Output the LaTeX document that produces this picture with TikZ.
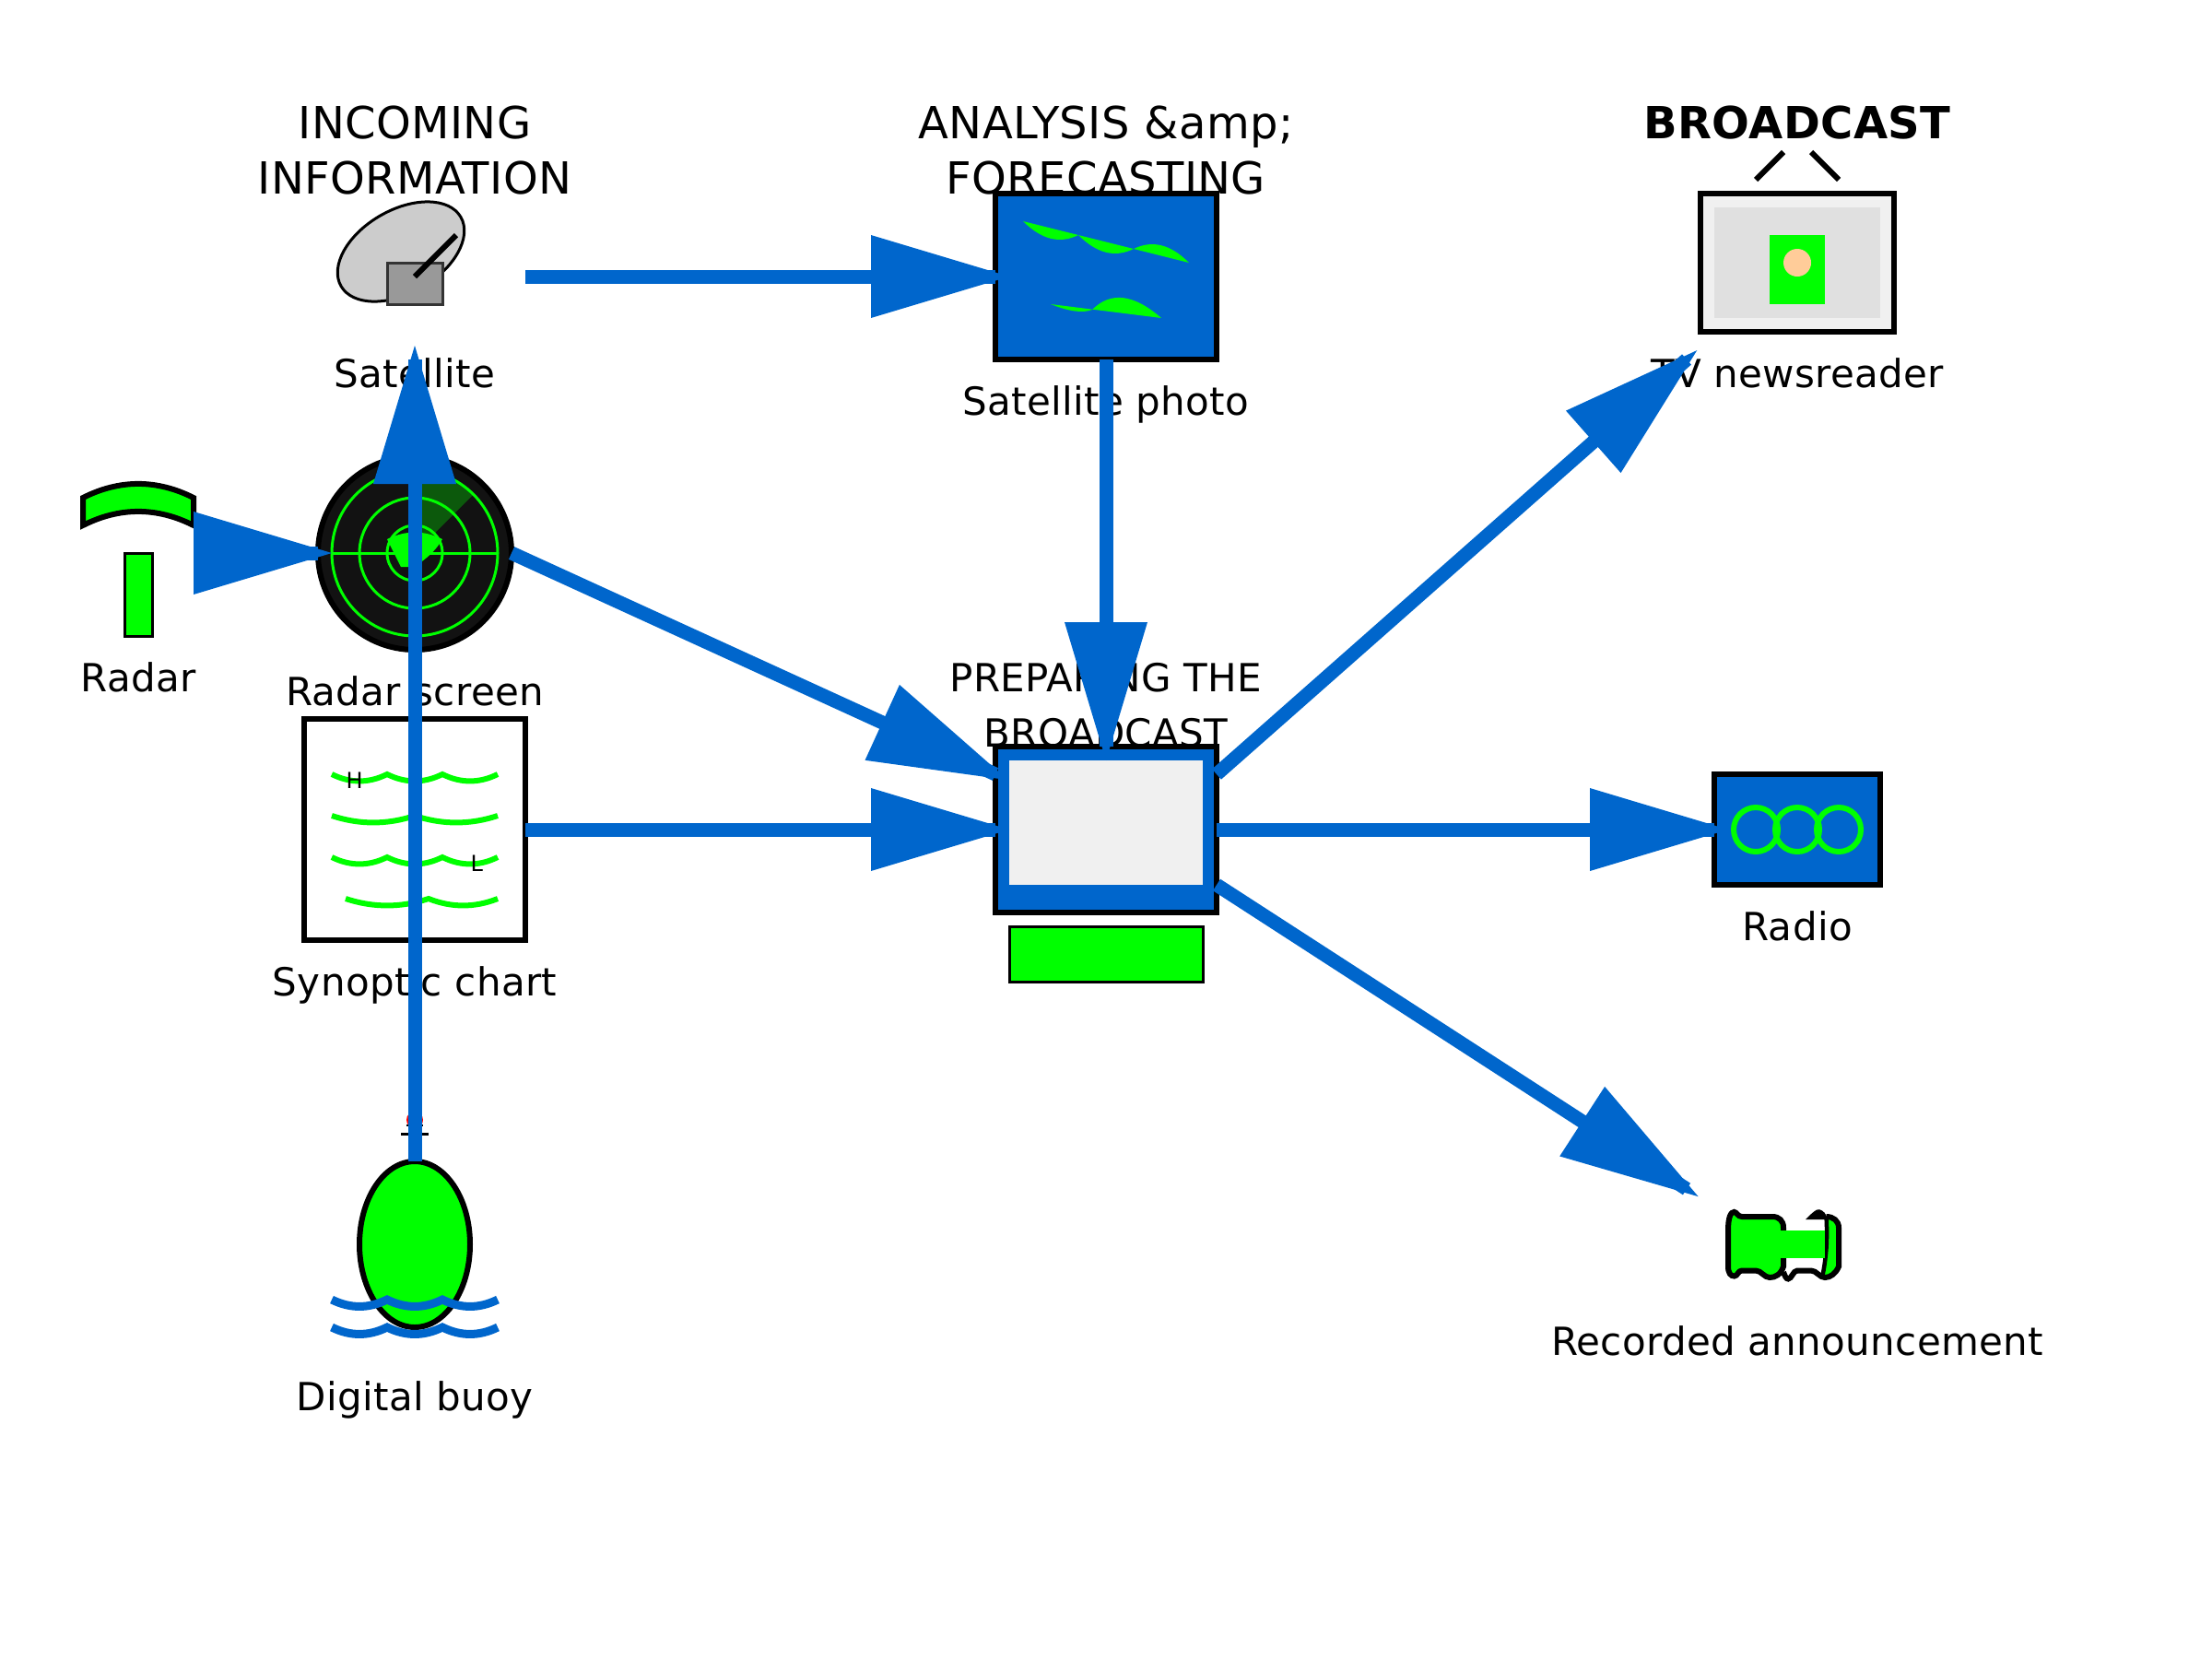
\documentclass[tikz,border=0pt]{standalone}
\usepackage{fontspec}
\setmainfont[LetterSpace=0.8]{DejaVu Sans}
\usetikzlibrary{arrows.meta, shapes.geometric}
\definecolor{flowblue}{HTML}{0066CC}
\definecolor{litegreen}{HTML}{00FF00}
\definecolor{facetone}{HTML}{FFCC99}
\pgfdeclarearrow{
  name = FlowHead,
  setup code = {
    \pgfarrowssettipend{5pt}
    \pgfarrowssetlineend{0pt}
    \pgfarrowssetbackend{-45pt}
    \pgfarrowssavethe\pgfarrowlength
  },
  drawing code = {
    \pgfpathmoveto{\pgfqpoint{5pt}{0pt}}
    \pgfpathlineto{\pgfqpoint{-45pt}{15pt}}
    \pgfpathlineto{\pgfqpoint{-45pt}{-15pt}}
    \pgfpathclose
    \pgfusepathqfill
  },
}
\tikzset{
  title/.style  = {font=\fontsize{16}{20}\selectfont, align=center, anchor=base, inner sep=0pt},
  lab/.style    = {font=\fontsize{14}{20}\selectfont, align=center, anchor=base, inner sep=0pt},
  panel/.style  = {draw=black, line width=2pt, outer sep=0pt, inner sep=0pt, rectangle},
  flow/.style   = {draw=flowblue, fill=none, line width=5pt, -{FlowHead[]}, shorten >=-5pt, color=flowblue},
  wave/.style   = {draw=litegreen, line width=2pt, fill=none},
  sea/.style    = {draw=flowblue, line width=3pt, fill=none},
  ring/.style   = {draw=litegreen, line width=1pt, fill=none},
  mini/.style   = {font=\fontsize{8}{8}\selectfont, anchor=base west, inner sep=0pt},
}
\begin{document}
\begin{tikzpicture}[x=1pt, y=-1pt]
  \useasboundingbox (0,0) rectangle (800,600);
  % headings
  \node[title] (titleIn) at (150,70) {INCOMING\\INFORMATION};
  \node[title] (titleAn) at (400,70) {ANALYSIS \&amp;\\FORECASTING};
  \node[title, font=\fontsize{16}{20}\selectfont\bfseries] (titleBr) at (650,50) {BROADCAST};
  \node[lab] (titlePr) at (400,270) {PREPARING THE\\BROADCAST};

  % satellite
  \draw[line width=1pt, fill=black!20, rotate around={30:(145,91)}] (145,91) ellipse [x radius=25, y radius=15];
  \draw[line width=1pt, draw=black!80, fill=black!40] (140,95) rectangle (160,110);
  \draw[line width=2pt] (150,100) -- (165,85);
  \node[lab] (labSat) at (150,140) {Satellite};

  % radar
  \draw[line width=2pt, fill=litegreen] (30,180) .. controls (43.3,173.3) and (56.7,173.3) .. (70,180)
        -- (70,190) .. controls (56.7,183.3) and (43.3,183.3) .. (30,190) -- cycle;
  \draw[line width=1pt, fill=litegreen] (45,200) rectangle (55,230);
  \node[lab] (labRadar) at (50,250) {Radar};

  % radar screen
  \node[panel, circle, fill=black!93, minimum size=70pt] (screen) at (150,200) {};
  \fill[litegreen, opacity=0.3] (150,200) -- (150,170) arc [start angle=-90, end angle=-45, radius=30] -- cycle;
  \foreach \r in {30,20,10}
    \draw[ring] (150,200) circle [radius=\r];
  \draw[ring] (120,200) -- (180,200);
  \fill[litegreen] (140,195) .. controls (146.7,191.7) and (153.3,191.7) .. (160,195)
        .. controls (157,200) and (154,202) .. (150,205) -- (145,205) -- cycle;
  \node[lab] (labScreen) at (150,255) {Radar screen};

  % synoptic chart
  \node[panel, fill=white, minimum size=80pt] (chart) at (150,300) {};
  \foreach \y in {280,310}
    \draw[wave] (120,\y) .. controls (126.7,\y+3.3) and (133.3,\y+3.3) .. (140,\y)
          .. controls (146.7,\y+3.3) and (153.3,\y+3.3) .. (160,\y)
          .. controls (166.7,\y+3.3) and (173.3,\y+3.3) .. (180,\y);
  \draw[wave] (120,295) .. controls (130,298.3) and (140,298.3) .. (150,295)
        .. controls (160,298.3) and (170,298.3) .. (180,295);
  \draw[wave] (125,325) .. controls (135,328.3) and (145,328.3) .. (155,325)
        .. controls (163.3,328.3) and (171.7,328.3) .. (180,325);
  \node[mini] (high) at (125,285) {H};
  \node[mini] (low) at (170,315) {L};
  \node[lab] (labChart) at (150,360) {Synoptic chart};

  % buoy
  \draw[line width=1pt] (145,410) -- (155,410);
  \fill[red] (150,405) circle [radius=3];
  \draw[line width=0.7pt] (147,407) -- (153,407);
  \node[panel, ellipse, fill=litegreen, minimum width=40pt, minimum height=60pt] (buoy) at (150,450) {};
  \foreach \y in {470,480}
    \draw[sea] (120,\y) .. controls (126.7,\y+3.3) and (133.3,\y+3.3) .. (140,\y)
          .. controls (146.7,\y+3.3) and (153.3,\y+3.3) .. (160,\y)
          .. controls (166.7,\y+3.3) and (173.3,\y+3.3) .. (180,\y);
  \node[lab] (labBuoy) at (150,510) {Digital buoy};

  % satellite photo
  \node[panel, fill=flowblue, minimum width=80pt, minimum height=60pt] (photo) at (400,100) {};
  \fill[litegreen] (370,80) .. controls (376.7,86.7) and (383.3,88.3) .. (390,85)
        .. controls (396.7,91.7) and (403.3,93.3) .. (410,90)
        .. controls (416.7,86.7) and (423.3,88.3) .. (430,95) -- cycle;
  \fill[litegreen] (380,110) .. controls (386.7,112.7) and (391.7,113.3) .. (395,112)
        .. controls (401.7,105.3) and (410,106.3) .. (420,115) -- cycle;
  \node[lab] (labPhoto) at (400,150) {Satellite photo};

  % computer
  \node[panel, fill=flowblue, minimum width=80pt, minimum height=60pt] (prep) at (400,300) {};
  \fill[black!6] (365,275) rectangle (435,320);
  \draw[line width=1pt, fill=litegreen] (365,335) rectangle (435,355);

  % television
  \draw[line width=2pt] (635,65) -- (645,55);
  \draw[line width=2pt] (655,55) -- (665,65);
  \node[panel, fill=black!6, minimum width=70pt, minimum height=50pt] (tv) at (650,95) {};
  \fill[black!12] (620,75) rectangle (680,115);
  \fill[litegreen] (640,85) rectangle (660,110);
  \fill[facetone] (650,95) circle [radius=5];
  \node[lab] (labTv) at (650,140) {TV newsreader};

  % radio
  \node[panel, fill=flowblue, minimum width=60pt, minimum height=40pt] (radio) at (650,300) {};
  \foreach \x in {635,650,665}
    \draw[wave] (\x,300) circle [radius=8];
  \node[lab] (labRadio) at (650,340) {Radio};

  % telephone
  \draw[line width=2pt, fill=litegreen] (625,445) .. controls (625,440) and (626,438.3) .. (627.2,438.3)
        .. controls (628,438.3) and (628.5,440) .. (630,440) -- (641,440)
        .. controls (643.5,440) and (645,441.5) .. (645,444) -- (645,458)
        .. controls (644,461) and (642,462) .. (640,462) .. controls (638,462) and (637,459.5) .. (635,459.5)
        -- (630,459.5) .. controls (628.5,459.5) and (628.5,461.5) .. (627.2,461.5)
        .. controls (626,461.5) and (625,460.5) .. (625,458) -- cycle;
  \fill[litegreen] (660.5,441) .. controls (663,441) and (665,442) .. (665,444) -- (665,458)
        .. controls (664,460) and (662,461.5) .. (659,462) .. controls (660,455) and (661,448) .. (660.5,441) -- cycle;
  \draw[line width=2pt] (660.5,440) .. controls (663,440) and (665,441.5) .. (665,444) -- (665,458)
        .. controls (664,460.5) and (662,462) .. (660,462) .. controls (658,462) and (657,459.5) .. (655,459.5)
        -- (650,459.5) .. controls (648.5,459.5) and (648,462.5) .. (646.7,462.5) .. controls (646,462.5) and (645.5,461.5) .. (645,460);
  \draw[line width=1.5pt] (660.5,440) .. controls (661,448) and (660.5,455) .. (659,462);
  \fill (653,441) .. controls (655,439) and (657,437) .. (658,437.4) .. controls (659.5,437.8) and (660.5,439) .. (661,441) -- cycle;
  \fill[litegreen] (640,445) rectangle (660,455);
  \node[lab] (labRec) at (650,490) {Recorded announcement};

  % flow lines
  \coordinate (satOut)  at (190,100);
  \coordinate (satIn)   at (150,130);
  \coordinate (radarOut) at (70,200);
  \coordinate (prepInA) at (360,280);
  \coordinate (prepOutA) at (440,280);
  \coordinate (prepOutC) at (440,320);
  \coordinate (tvIn)    at (610,130);
  \coordinate (recIn)   at (610,430);
  \draw[flow] (satOut) -- (photo.west);
  \draw[flow] (radarOut) -- (screen.west);
  \draw[flow] (buoy.north) -- (satIn);
  \draw[flow] (screen.east) -- (prepInA);
  \draw[flow] (photo.south) -- (prep.north);
  \draw[flow] (chart.east) -- (prep.west);
  \draw[flow] (prepOutA) -- (tvIn);
  \draw[flow] (prep.east) -- (radio.west);
  \draw[flow] (prepOutC) -- (recIn);
\end{tikzpicture}
\end{document}
